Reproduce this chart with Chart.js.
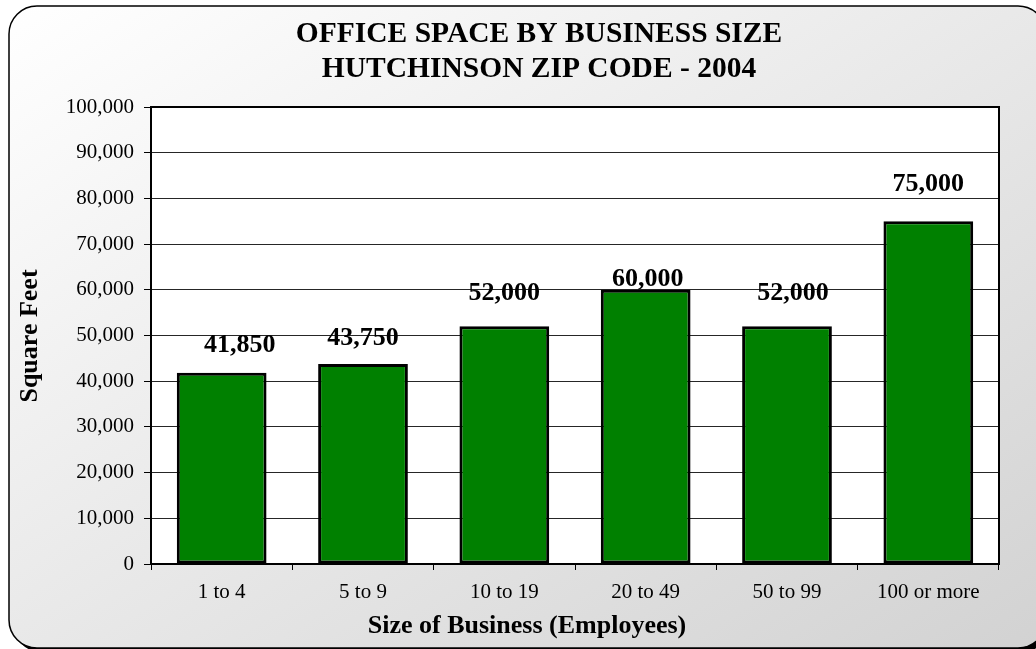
<!DOCTYPE html>
<html>
<head>
<meta charset="utf-8">
<script src="https://cdn.jsdelivr.net/npm/chart.js@4/dist/chart.umd.min.js"></script>
<style>
  html, body { margin: 0; padding: 0; background: #ffffff; }
  canvas { display: block; }
</style>
</head>
<body>
<canvas id="chart" width="1036" height="649"></canvas>
<script>
// Office space by business size, Hutchinson ZIP code, 2004
const categories = ['1 to 4', '5 to 9', '10 to 19', '20 to 49', '50 to 99', '100 or more'];
const squareFeet = [41850, 43750, 52000, 60000, 52000, 75000];
const titleLines = ['OFFICE SPACE BY BUSINESS SIZE', 'HUTCHINSON ZIP CODE - 2004'];
const xAxisTitle = 'Size of Business (Employees)';
const yAxisTitle = 'Square Feet';
const yTickMin = 0;
const yTickMax = 100000;
const yTickStep = 10000;

// Value-label nudges (pixels) so each label sits where it reads best
const labelShiftX = [18, 0, 0, 2, 6, 0];
const labelLift = [30, 28, 35, 13, 35, 39];

const SERIF = "'Liberation Serif', 'Times New Roman', Times, serif";

function roundRectPath(ctx, x, y, w, h, r) {
  ctx.beginPath();
  ctx.moveTo(x + r, y);
  ctx.lineTo(x + w - r, y);
  ctx.arcTo(x + w, y, x + w, y + r, r);
  ctx.lineTo(x + w, y + h - r);
  ctx.arcTo(x + w, y + h, x + w - r, y + h, r);
  ctx.lineTo(x + r, y + h);
  ctx.arcTo(x, y + h, x, y + h - r, r);
  ctx.lineTo(x, y + r);
  ctx.arcTo(x, y, x + r, y, r);
  ctx.closePath();
}

// Rounded panel with diagonal grey gradient, plus white plot area
const panelPlugin = {
  id: 'panel',
  beforeDraw(chart) {
    const ctx = chart.ctx;
    const x0 = 9, y0 = 6, x1 = 1046, y1 = 648, r = 28;
    const W = x1 - x0, H = y1 - y0;
    ctx.save();
    ctx.fillStyle = '#ffffff';
    ctx.fillRect(0, 0, chart.width, chart.height);

    // drop shadow
    roundRectPath(ctx, x0 + 4, y0 + 4, W, H, r);
    ctx.fillStyle = '#000000';
    ctx.fill();

    // gradient whose iso-lines follow the box's anti-diagonal
    const L2 = W * W + H * H;
    const s = 2 * W * H / L2;
    const g = ctx.createLinearGradient(x0, y0, x0 + H * s, y0 + W * s);
    g.addColorStop(0, '#ffffff');
    g.addColorStop(1, '#d2d2d2');
    roundRectPath(ctx, x0, y0, W, H, r);
    ctx.fillStyle = g;
    ctx.fill();
    ctx.lineWidth = 1.5;
    ctx.strokeStyle = '#000000';
    ctx.stroke();

    const a = chart.chartArea;
    ctx.fillStyle = '#ffffff';
    ctx.fillRect(a.left, a.top, a.right - a.left, a.bottom - a.top);
    ctx.restore();
  },
  afterDatasetsDraw(chart) {
    const ctx = chart.ctx;
    const a = chart.chartArea;
    ctx.save();
    ctx.lineWidth = 2;
    ctx.strokeStyle = '#000000';
    ctx.strokeRect(a.left, a.top, a.right - a.left, a.bottom - a.top);
    ctx.restore();
  }
};

// Chart title, axis titles and bar value labels
const textPlugin = {
  id: 'texts',
  afterDraw(chart) {
    const ctx = chart.ctx;
    ctx.save();
    ctx.fillStyle = '#000000';
    ctx.textAlign = 'center';
    ctx.textBaseline = 'alphabetic';

    ctx.font = 'bold 29.5px ' + SERIF;
    ctx.fillText(titleLines[0], 539, 42);
    ctx.fillText(titleLines[1], 539, 77);

    ctx.font = 'bold 26px ' + SERIF;
    ctx.fillText(xAxisTitle, 527, 633);

    ctx.save();
    ctx.translate(37, 336);
    ctx.rotate(-Math.PI / 2);
    ctx.fillText(yAxisTitle, 0, 0);
    ctx.restore();

    const meta = chart.getDatasetMeta(0);
    ctx.font = 'bold 26px ' + SERIF;
    meta.data.forEach((bar, i) => {
      const v = squareFeet[i];
      const text = v.toLocaleString('en-US');
      ctx.fillText(text, bar.x + labelShiftX[i], bar.y - labelLift[i] + 9);
    });
    ctx.restore();
  }
};

new Chart(document.getElementById('chart'), {
  type: 'bar',
  data: {
    labels: categories,
    datasets: [{
      data: squareFeet,
      backgroundColor: '#008000',
      borderColor: '#000000',
      borderWidth: 3,
      borderSkipped: false,
      barPercentage: 0.635,
      categoryPercentage: 1.0
    }]
  },
  options: {
    responsive: false,
    animation: false,
    devicePixelRatio: 1,
    layout: { padding: { left: 0, top: 107, right: 37, bottom: 0 } },
    plugins: {
      legend: { display: false },
      title: { display: false },
      tooltip: { enabled: false }
    },
    scales: {
      x: {
        offset: true,
        grid: {
          display: true,
          offset: true,
          drawOnChartArea: false,
          drawTicks: true,
          tickLength: 6,
          color: '#000000',
          lineWidth: 1
        },
        border: { display: false },
        ticks: {
          color: '#000000',
          font: { family: SERIF, size: 21 },
          padding: 10,
          maxRotation: 0,
          autoSkip: false
        },
        afterFit(scale) { scale.height = 85; }
      },
      y: {
        min: yTickMin,
        max: yTickMax,
        grid: {
          color: '#262626',
          lineWidth: 1,
          drawTicks: true,
          tickLength: 7,
          tickColor: '#000000'
        },
        border: { display: false },
        ticks: {
          stepSize: yTickStep,
          color: '#000000',
          font: { family: SERIF, size: 21 },
          padding: 10,
          callback: (v) => Number(v).toLocaleString('en-US')
        },
        afterFit(scale) { scale.width = 151; }
      }
    }
  },
  plugins: [panelPlugin, textPlugin]
});
</script>
</body>
</html>
